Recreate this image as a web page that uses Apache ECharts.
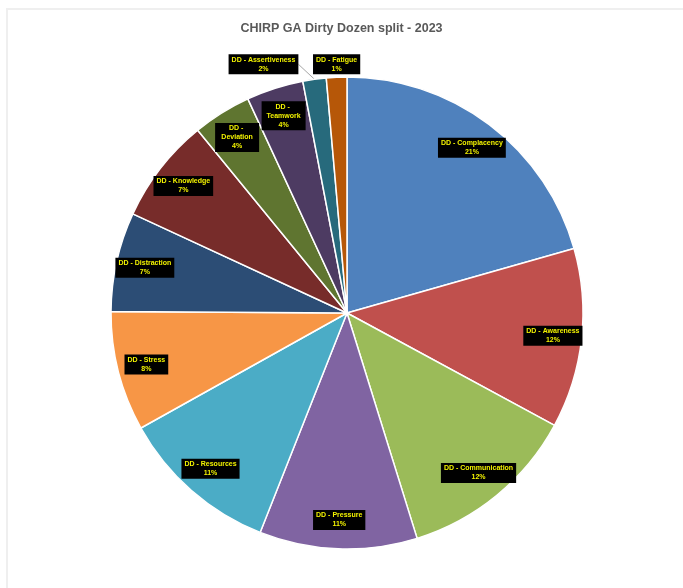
<!DOCTYPE html>
<html>
<head>
<meta charset="utf-8">
<script src="https://cdn.jsdelivr.net/npm/echarts@6/dist/echarts.min.js"></script>
<style>
html,body{margin:0;padding:0;background:#fff;}
#chart{width:683px;height:588px;}
</style>
</head>
<body>
<div id="chart"></div>
<script>
const categories = ['DD - Complacency','DD - Awareness','DD - Communication','DD - Pressure','DD - Resources','DD - Stress','DD - Distraction','DD - Knowledge','DD - Deviation','DD - Teamwork','DD - Assertiveness','DD - Fatigue'];
const values = [20.6, 12.3, 12.3, 10.8, 10.9, 8.2, 6.8, 7.2, 4.0, 3.9, 1.6, 1.4];
const colors = ['#4F81BD','#C0504D','#9BBB59','#8064A2','#4BACC6','#F79646','#2C4D75','#772C2A','#5F7530','#4D3B62','#276A7C','#B65708'];
const titleText = 'CHIRP GA Dirty Dozen split - 2023';

const FONT = '"Liberation Sans",Arial,sans-serif';
const CX = 347, CY = 313, R = 236;
const outsideNames = ['DD - Assertiveness','DD - Fatigue'];
const wrapNames = ['DD - Deviation','DD - Teamwork'];
const outsideOffsets = {'DD - Assertiveness':[-51,-15], 'DD - Fatigue':[0,-13]};

const labelBase = {
  color: '#F2F200', fontFamily: FONT, fontWeight: 'bold', fontSize: 7, lineHeight: 9,
  backgroundColor: '#000', padding: [1, 3, 1, 3], align: 'center'
};
function fmt(p){ return p.name + '\n' + Math.round(p.percent) + '%'; }

const mainData = categories.map((n,i)=>{
  const outside = outsideNames.indexOf(n) >= 0;
  return {
    name: n, value: values[i], itemStyle: {color: colors[i]},
    label: {show: outside},
    labelLine: {show: n === 'DD - Assertiveness'}
  };
});
const overlayData = categories.map((n,i)=>{
  const inside = outsideNames.indexOf(n) < 0;
  const d = {name: n, value: values[i], label: {show: inside}};
  if (wrapNames.indexOf(n) >= 0) { d.label.width = 38; d.label.overflow = 'break'; }
  return d;
});

const chart = echarts.init(document.getElementById('chart'));
chart.setOption({
  backgroundColor: '#fff',
  animation: false,
  title: {text: titleText, left: 'center', top: 17, textStyle: {fontFamily: FONT, fontSize: 12.5, fontWeight: 'bold', color: '#595959'}},
  graphic: [{type:'rect', shape:{x:7, y:9, width:700, height:600}, style:{fill:'none', stroke:'#efefef', lineWidth:2}, silent:true}],
  series: [
    {
      type: 'pie', center: [CX, CY], radius: [0, R], startAngle: 90, clockwise: true,
      avoidLabelOverlap: false, silent: true,
      itemStyle: {borderColor: '#fff', borderWidth: 1.5},
      label: Object.assign({position: 'outside', formatter: fmt}, labelBase),
      labelLine: {length: 4, length2: 0, lineStyle: {color: '#A6A6A6', width: 1}},
      labelLayout: function(p){
        const off = outsideOffsets[categories[p.dataIndex]];
        if (!off || !p.labelLinePoints) return {};
        const pt = p.labelLinePoints[0];
        return {x: pt[0] + off[0], y: pt[1] + off[1], align: 'center', verticalAlign: 'middle'};
      },
      data: mainData
    },
    {
      type: 'pie', center: [CX, CY], radius: [R*0.79, R*0.94], startAngle: 90, clockwise: true,
      avoidLabelOverlap: false, silent: true,
      itemStyle: {color: 'rgba(0,0,0,0)', borderWidth: 0},
      label: Object.assign({position: 'inside', formatter: fmt}, labelBase),
      labelLine: {show: false},
      emphasis: {disabled: true},
      data: overlayData
    }
  ]
});
</script>
</body>
</html>
